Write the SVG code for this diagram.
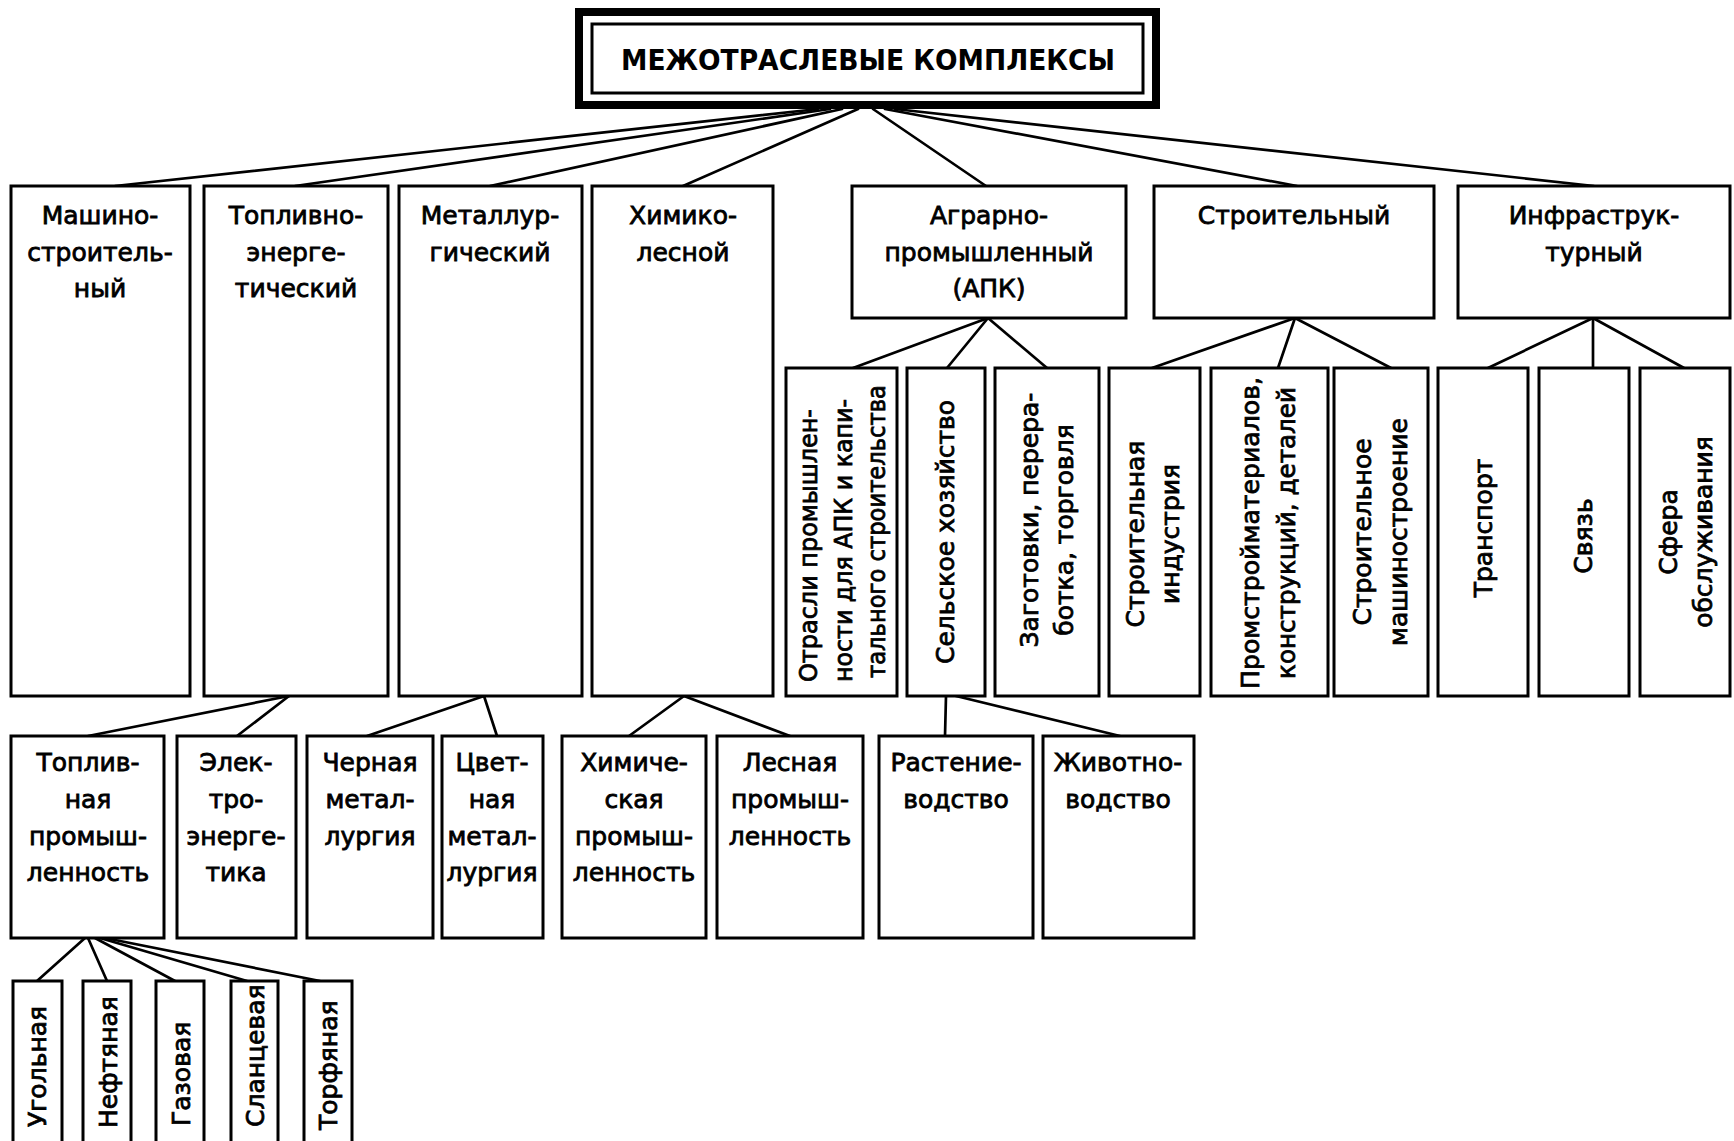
<svg xmlns="http://www.w3.org/2000/svg" width="1734" height="1141" viewBox="0 0 1734 1141">
<style>
.box{fill:#fff;stroke:#000;stroke-width:3}
.t{font-family:"DejaVu Sans","Liberation Sans",sans-serif;font-size:25px;fill:#000;stroke:#000;stroke-width:0.8;text-anchor:middle}
.vs{text-anchor:start}
.title{font-family:"DejaVu Sans","Liberation Sans",sans-serif;font-size:28px;font-weight:bold;fill:#000;text-anchor:middle}
#connectors line{stroke:#000;stroke-width:2.7;stroke-linecap:round}
</style>
<rect width="1734" height="1141" fill="#fff"/>
<g id="connectors">
<line x1="818" y1="109" x2="115" y2="186"/>
<line x1="830" y1="109" x2="295" y2="186"/>
<line x1="842" y1="109" x2="490" y2="186"/>
<line x1="858" y1="109" x2="683" y2="186"/>
<line x1="873" y1="109" x2="986" y2="186"/>
<line x1="885" y1="109" x2="1297" y2="186"/>
<line x1="895" y1="109" x2="1594" y2="186"/>
<line x1="988" y1="318" x2="853" y2="368"/>
<line x1="988" y1="318" x2="947" y2="368"/>
<line x1="988" y1="318" x2="1047" y2="368"/>
<line x1="1295" y1="318" x2="1152" y2="368"/>
<line x1="1295" y1="318" x2="1278" y2="368"/>
<line x1="1295" y1="318" x2="1391" y2="368"/>
<line x1="1593" y1="318" x2="1488" y2="368"/>
<line x1="1593" y1="318" x2="1593" y2="368"/>
<line x1="1593" y1="318" x2="1684" y2="368"/>
<line x1="289" y1="696" x2="88" y2="736"/>
<line x1="289" y1="696" x2="237" y2="736"/>
<line x1="484" y1="696" x2="367" y2="736"/>
<line x1="484" y1="696" x2="497" y2="736"/>
<line x1="684" y1="696" x2="629" y2="736"/>
<line x1="684" y1="696" x2="790" y2="736"/>
<line x1="946" y1="696" x2="945" y2="736"/>
<line x1="956" y1="696" x2="1120" y2="736"/>
<line x1="85" y1="938" x2="37" y2="981"/>
<line x1="88" y1="938" x2="107" y2="981"/>
<line x1="95" y1="938" x2="175" y2="981"/>
<line x1="100" y1="938" x2="247" y2="981"/>
<line x1="105" y1="938" x2="320" y2="981"/>
</g>
<g id="root">
<rect x="579" y="12" width="577" height="93" fill="#fff" stroke="#000" stroke-width="8"/>
<rect x="592" y="24" width="551" height="69" fill="none" stroke="#000" stroke-width="3"/>
<text class="title" x="868" y="70" textLength="494" lengthAdjust="spacingAndGlyphs">МЕЖОТРАСЛЕВЫЕ КОМПЛЕКСЫ</text>
</g>
<g id="mash"><rect class="box" x="11" y="186" width="179" height="510"/>
<text class="t" x="100" y="224">Машино-</text><text class="t" x="100" y="261">строитель-</text><text class="t" x="100" y="297">ный</text></g>
<g id="tek"><rect class="box" x="204" y="186" width="184" height="510"/>
<text class="t" x="296" y="224">Топливно-</text><text class="t" x="296" y="261">энерге-</text><text class="t" x="296" y="297">тический</text></g>
<g id="met"><rect class="box" x="399" y="186" width="183" height="510"/>
<text class="t" x="490" y="224">Металлур-</text><text class="t" x="490" y="261">гический</text></g>
<g id="chem"><rect class="box" x="592" y="186" width="181" height="510"/>
<text class="t" x="683" y="224">Химико-</text><text class="t" x="683" y="261">лесной</text></g>
<g id="apk"><rect class="box" x="852" y="186" width="274" height="132"/>
<text class="t" x="989" y="224">Аграрно-</text><text class="t" x="989" y="261">промышленный</text><text class="t" x="989" y="297">(АПК)</text></g>
<g id="stroi"><rect class="box" x="1154" y="186" width="280" height="132"/>
<text class="t" x="1294" y="224">Строительный</text></g>
<g id="infra"><rect class="box" x="1458" y="186" width="272" height="132"/>
<text class="t" x="1594" y="224">Инфраструк-</text><text class="t" x="1594" y="261">турный</text></g>

<g id="otrasli"><rect class="box" x="786" y="368" width="111" height="328"/>
<text class="t vs" transform="translate(817,682) rotate(-90)" textLength="273" lengthAdjust="spacingAndGlyphs">Отрасли промышлен-</text>
<text class="t vs" transform="translate(852,682) rotate(-90)" textLength="283" lengthAdjust="spacingAndGlyphs">ности для АПК и капи-</text>
<text class="t vs" transform="translate(885,678) rotate(-90)" textLength="293" lengthAdjust="spacingAndGlyphs">тального строительства</text></g>
<g id="selhoz"><rect class="box" x="907" y="368" width="78" height="328"/>
<text class="t" transform="translate(954,532) rotate(-90)">Сельское хозяйство</text></g>
<g id="zagot"><rect class="box" x="995" y="368" width="104" height="328"/>
<text class="t" transform="translate(1038,520) rotate(-90)">Заготовки, перера-</text>
<text class="t" transform="translate(1073,530) rotate(-90)">ботка, торговля</text></g>
<g id="strind"><rect class="box" x="1109" y="368" width="91" height="328"/>
<text class="t" transform="translate(1144,534) rotate(-90)">Строительная</text>
<text class="t" transform="translate(1179,534) rotate(-90)">индустрия</text></g>
<g id="promstroi"><rect class="box" x="1211" y="368" width="117" height="328"/>
<text class="t" transform="translate(1259,533) rotate(-90)" textLength="312" lengthAdjust="spacingAndGlyphs">Промстройматериалов,</text>
<text class="t" transform="translate(1295,533) rotate(-90)" textLength="292" lengthAdjust="spacingAndGlyphs">конструкций, деталей</text></g>
<g id="strmash"><rect class="box" x="1334" y="368" width="94" height="328"/>
<text class="t" transform="translate(1371,532) rotate(-90)">Строительное</text>
<text class="t" transform="translate(1407,532) rotate(-90)">машиностроение</text></g>
<g id="transport"><rect class="box" x="1438" y="368" width="90" height="328"/>
<text class="t" transform="translate(1492,528) rotate(-90)">Транспорт</text></g>
<g id="svyaz"><rect class="box" x="1539" y="368" width="90" height="328"/>
<text class="t" transform="translate(1592,536) rotate(-90)">Связь</text></g>
<g id="sfera"><rect class="box" x="1640" y="368" width="90" height="328"/>
<text class="t" transform="translate(1677,532) rotate(-90)">Сфера</text>
<text class="t" transform="translate(1712,532) rotate(-90)">обслуживания</text></g>

<g id="toplprom"><rect class="box" x="11" y="736" width="153" height="202"/>
<text class="t" x="88" y="771">Топлив-</text><text class="t" x="88" y="808">ная</text><text class="t" x="88" y="845">промыш-</text><text class="t" x="88" y="881">ленность</text></g>
<g id="elektro"><rect class="box" x="177" y="736" width="119" height="202"/>
<text class="t" x="236" y="771">Элек-</text><text class="t" x="236" y="808">тро-</text><text class="t" x="236" y="845">энерге-</text><text class="t" x="236" y="881">тика</text></g>
<g id="chern"><rect class="box" x="307" y="736" width="126" height="202"/>
<text class="t" x="370" y="771">Черная</text><text class="t" x="370" y="808">метал-</text><text class="t" x="370" y="845">лургия</text></g>
<g id="tsvet"><rect class="box" x="442" y="736" width="101" height="202"/>
<text class="t" x="492" y="771">Цвет-</text><text class="t" x="492" y="808">ная</text><text class="t" x="492" y="845">метал-</text><text class="t" x="492" y="881">лургия</text></g>
<g id="himprom"><rect class="box" x="562" y="736" width="144" height="202"/>
<text class="t" x="634" y="771">Химиче-</text><text class="t" x="634" y="808">ская</text><text class="t" x="634" y="845">промыш-</text><text class="t" x="634" y="881">ленность</text></g>
<g id="lesprom"><rect class="box" x="717" y="736" width="146" height="202"/>
<text class="t" x="790" y="771">Лесная</text><text class="t" x="790" y="808">промыш-</text><text class="t" x="790" y="845">ленность</text></g>
<g id="rast"><rect class="box" x="879" y="736" width="154" height="202"/>
<text class="t" x="956" y="771">Растение-</text><text class="t" x="956" y="808">водство</text></g>
<g id="zhiv"><rect class="box" x="1043" y="736" width="151" height="202"/>
<text class="t" x="1118" y="771">Животно-</text><text class="t" x="1118" y="808">водство</text></g>

<g id="ugol"><rect class="box" x="13" y="981" width="49" height="175"/>
<text class="t vs" transform="translate(46,1127) rotate(-90)">Угольная</text></g>
<g id="neft"><rect class="box" x="83" y="981" width="48" height="175"/>
<text class="t vs" transform="translate(117,1128) rotate(-90)">Нефтяная</text></g>
<g id="gaz"><rect class="box" x="156" y="981" width="48" height="175"/>
<text class="t vs" transform="translate(190,1126) rotate(-90)">Газовая</text></g>
<g id="slan"><rect class="box" x="231" y="981" width="47" height="175"/>
<text class="t vs" transform="translate(264,1127) rotate(-90)">Сланцевая</text></g>
<g id="torf"><rect class="box" x="304" y="981" width="48" height="175"/>
<text class="t vs" transform="translate(337,1130) rotate(-90)">Торфяная</text></g>
</svg>
